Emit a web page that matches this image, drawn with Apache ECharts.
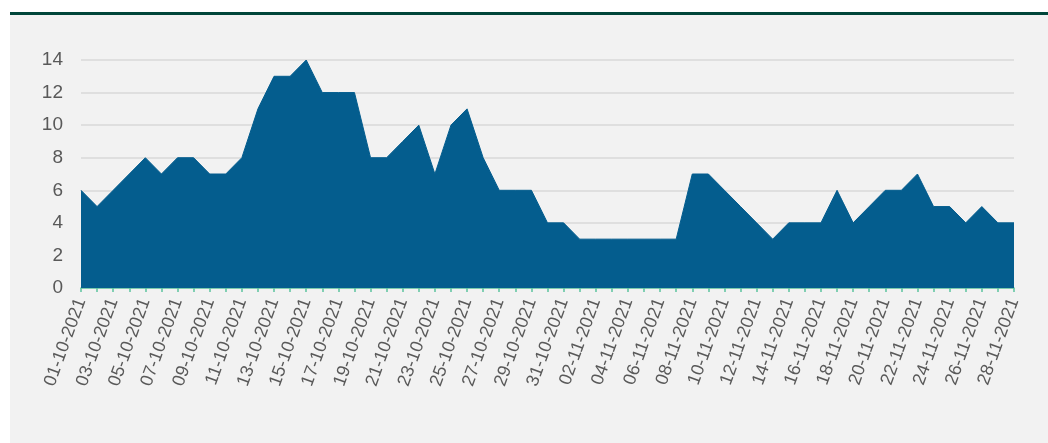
<!DOCTYPE html>
<html>
<head>
<meta charset="utf-8">
<script src="https://cdn.jsdelivr.net/npm/echarts@6/dist/echarts.min.js"></script>
<style>
  html, body { margin: 0; padding: 0; background: #ffffff; }
  #panel { position: absolute; left: 10px; top: 15px; width: 1038px; height: 428px; background: #f2f2f2; }
  #bar { position: absolute; left: 10px; top: 12px; width: 1038px; height: 3px; background: #00463a; }
  #chart { position: absolute; left: 0; top: 0; width: 1048px; height: 443px; }
</style>
</head>
<body>
<div id="panel"></div>
<div id="bar"></div>
<div id="chart"></div>
<script>
const dates = [
  '01-10-2021','02-10-2021','03-10-2021','04-10-2021','05-10-2021','06-10-2021','07-10-2021','08-10-2021','09-10-2021','10-10-2021',
  '11-10-2021','12-10-2021','13-10-2021','14-10-2021','15-10-2021','16-10-2021','17-10-2021','18-10-2021','19-10-2021','20-10-2021',
  '21-10-2021','22-10-2021','23-10-2021','24-10-2021','25-10-2021','26-10-2021','27-10-2021','28-10-2021','29-10-2021','30-10-2021',
  '31-10-2021','01-11-2021','02-11-2021','03-11-2021','04-11-2021','05-11-2021','06-11-2021','07-11-2021','08-11-2021','09-11-2021',
  '10-11-2021','11-11-2021','12-11-2021','13-11-2021','14-11-2021','15-11-2021','16-11-2021','17-11-2021','18-11-2021','19-11-2021',
  '20-11-2021','21-11-2021','22-11-2021','23-11-2021','24-11-2021','25-11-2021','26-11-2021','27-11-2021','28-11-2021'
];
const values = [
  6,5,6,7,8,7,8,8,7,7,
  8,11,13,13,14,12,12,12,8,8,
  9,10,7,10,11,8,6,6,6,4,
  4,3,3,3,3,3,3,3,7,7,
  6,5,4,3,4,4,4,6,4,5,
  6,6,7,5,5,4,5,4,4
];
const yTicks = { min: 0, max: 14, interval: 2 };

const chart = echarts.init(document.getElementById('chart'), null, { renderer: 'canvas' });
chart.setOption({
  backgroundColor: 'transparent',
  animation: false,
  grid: { left: 81, right: 34, top: 60, bottom: 155, containLabel: false },
  xAxis: {
    type: 'category',
    data: dates,
    boundaryGap: false,
    axisLine: { show: true, lineStyle: { color: '#5cc49e', width: 1.5 } },
    axisTick: { show: true, interval: 0, length: 4, lineStyle: { color: '#5cc49e', width: 1.5 } },
    axisLabel: {
      interval: 1,
      rotate: 70,
      margin: 11,
      color: '#595959',
      fontSize: 18,
      fontFamily: 'Liberation Sans, Arial, sans-serif'
    },
    splitLine: { show: false }
  },
  yAxis: {
    type: 'value',
    min: yTicks.min,
    max: yTicks.max,
    interval: yTicks.interval,
    axisLine: { show: false },
    axisTick: { show: false },
    axisLabel: {
      margin: 18,
      color: '#595959',
      fontSize: 19,
      fontFamily: 'Liberation Sans, Arial, sans-serif'
    },
    splitLine: { show: true, lineStyle: { color: '#d9d9d9', width: 1.5 } }
  },
  series: [{
    type: 'line',
    data: values,
    symbol: 'none',
    lineStyle: { color: '#045d8e', width: 1 },
    areaStyle: { color: '#045d8e', opacity: 1 },
    z: 1
  }]
});
</script>
</body>
</html>
